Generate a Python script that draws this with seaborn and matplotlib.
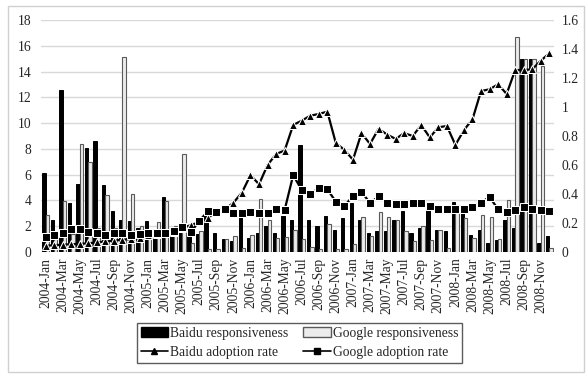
import numpy as np
import pandas as pd
import matplotlib
matplotlib.use("Agg")
import matplotlib.pyplot as plt
from matplotlib.patches import Patch, Rectangle
from matplotlib.lines import Line2D
import seaborn as sns

# Monthly series, 2004-Jan .. 2008-Dec
years = [2004, 2005, 2006, 2007, 2008]
month_names = ["Jan", "Feb", "Mar", "Apr", "May", "Jun",
               "Jul", "Aug", "Sep", "Oct", "Nov", "Dec"]
months = [f"{y}-{m}" for y in years for m in month_names]

baidu_resp = [6.1, 2.5, 12.6, 3.8, 5.3, 8.1, 8.6, 5.2, 3.2, 2.5, 2.4, 1.9,
              2.4, 1.7, 4.3, 1.9, 1.9, 1.4, 1.4, 3.0, 1.5, 1.0, 0.85, 3.1,
              1.05, 1.45, 2.05, 1.45, 2.8, 2.5, 8.3, 2.5, 2.0, 2.8, 1.7, 2.65,
              3.8, 2.5, 1.45, 1.6, 1.6, 2.45, 3.2, 1.5, 1.9, 3.4, 1.7, 1.65,
              3.9, 3.4, 1.35, 1.7, 0.7, 0.9, 2.45, 1.9, 15.0, 15.0, 0.7, 1.25]

google_resp = [2.9, 1.2, 3.95, 1.4, 8.4, 6.95, 1.9, 4.4, 1.9, 15.1, 4.5, 2.0,
               1.3, 2.35, 3.95, 2.0, 7.6, 0.7, 1.6, 0.2, 0.2, 1.0, 1.25, 0.3,
               1.35, 4.1, 2.5, 1.05, 1.2, 1.7, 1.0, 0.4, 0.2, 2.15, 0.2, 0.2,
               0.6, 2.7, 1.25, 3.1, 2.7, 2.45, 1.6, 0.85, 2.05, 0.9, 1.7, 0.3,
               3.65, 2.6, 1.05, 2.9, 2.75, 1.0, 4.0, 16.7, 15.0, 15.0, 14.4, 0.3]

baidu_rate = [0.043, 0.047, 0.05, 0.054, 0.056, 0.06, 0.066, 0.073, 0.078, 0.085, 0.089, 0.10,
              0.117, 0.124, 0.13, 0.14, 0.163, 0.186, 0.205, 0.235, 0.278, 0.294, 0.34, 0.41,
              0.53, 0.467, 0.60, 0.676, 0.70, 0.876, 0.906, 0.94, 0.952, 0.968, 0.75, 0.705,
              0.636, 0.82, 0.745, 0.85, 0.81, 0.78, 0.82, 0.80, 0.876, 0.79, 0.86, 0.869,
              0.738, 0.841, 0.915, 1.11, 1.122, 1.157, 1.09, 1.255, 1.255, 1.26, 1.32, 1.37]

google_rate = [0.105, 0.12, 0.13, 0.157, 0.157, 0.136, 0.13, 0.12, 0.13, 0.13, 0.12, 0.125,
               0.13, 0.13, 0.13, 0.145, 0.17, 0.135, 0.215, 0.28, 0.278, 0.294, 0.268, 0.267,
               0.278, 0.267, 0.271, 0.294, 0.29, 0.53, 0.428, 0.40, 0.44, 0.432, 0.347, 0.317,
               0.386, 0.415, 0.338, 0.383, 0.338, 0.328, 0.328, 0.34, 0.34, 0.317, 0.30, 0.30,
               0.30, 0.30, 0.313, 0.34, 0.38, 0.294, 0.274, 0.29, 0.313, 0.297, 0.29, 0.285]

left_ticks = list(range(0, 19, 2))
right_ticks = [0, 0.2, 0.4, 0.6, 0.8, 1.0, 1.2, 1.4, 1.6]
right_tick_labels = ["0", "0.2", "0.4", "0.6", "0.8", "1", "1.2", "1.4", "1.6"]

sns.set_theme(style="white")
plt.rcParams["font.family"] = ["Liberation Serif", "DejaVu Serif"]
FS = 9.8

bars = pd.DataFrame({
    "month": months * 2,
    "value": baidu_resp + google_resp,
    "series": ["Baidu responsiveness"] * 60 + ["Google responsiveness"] * 60,
})
lines = pd.DataFrame({
    "idx": list(range(60)) * 2,
    "rate": baidu_rate + google_rate,
    "series": ["Baidu adoption rate"] * 60 + ["Google adoption rate"] * 60,
})

fig = plt.figure(figsize=(5.86, 3.74), dpi=100)
ax = fig.add_axes([0.0705, 0.3262, 0.8742, 0.6203])

sns.barplot(data=bars, x="month", y="value", hue="series", order=months,
            palette={"Baidu responsiveness": "black",
                     "Google responsiveness": "#ececec"},
            width=0.78, gap=0, saturation=1, legend=False, ax=ax, zorder=2)
for p in ax.containers[0]:
    p.set_edgecolor("black")
    p.set_linewidth(0.7)
for p in ax.containers[1]:
    p.set_edgecolor("#5a5a5a")
    p.set_linewidth(0.8)

ax.set_ylim(0, 18)
ax.set_xlim(-0.5, 59.5)
ax.set_yticks(left_ticks)
ax.set_yticklabels([str(t) for t in left_ticks], fontsize=FS)
ax.set_xticks(range(0, 60, 2))
ax.set_xticklabels(months[::2], rotation=90, fontsize=FS)
ax.set_xlabel("")
ax.set_ylabel("")
ax.grid(axis="y", color="#d9d9d9", linewidth=1.0, zorder=0)
ax.set_axisbelow(True)
ax.tick_params(axis="both", length=0)
ax.tick_params(axis="y", pad=7)
ax.tick_params(axis="x", pad=4)
for s in ax.spines.values():
    s.set_visible(False)

ax2 = ax.twinx()
sns.lineplot(data=lines, x="idx", y="rate", hue="series", style="series",
             palette={"Baidu adoption rate": "black", "Google adoption rate": "black"},
             markers={"Baidu adoption rate": "^", "Google adoption rate": "s"},
             dashes=False, markersize=5.5, linewidth=1.6, legend=False, ax=ax2)
ax2.set_ylim(0, 1.6)
ax2.set_xlim(-0.5, 59.5)
ax2.set_yticks(right_ticks)
ax2.set_yticklabels(right_tick_labels, fontsize=FS)
ax2.set_xlabel("")
ax2.set_ylabel("")
ax2.tick_params(axis="y", length=0, pad=6)
ax2.grid(False)
for s in ax2.spines.values():
    s.set_visible(False)

handles = [
    Patch(facecolor="black", edgecolor="black", label="Baidu responsiveness"),
    Line2D([], [], color="black", marker="^", markersize=5, linewidth=1.2,
           label="Baidu adoption rate"),
    Patch(facecolor="#ececec", edgecolor="#5a5a5a", label="Google responsiveness"),
    Line2D([], [], color="black", marker="s", markersize=5, linewidth=1.2,
           label="Google adoption rate"),
]
leg = fig.legend(handles=handles, ncol=2, loc="center", bbox_to_anchor=(0.511, 0.083),
                 fontsize=FS, frameon=True, fancybox=False, handlelength=2.0,
                 handleheight=0.7, columnspacing=1.1, handletextpad=0.15,
                 labelspacing=0.45, borderpad=0.3, borderaxespad=0)
leg.get_frame().set_edgecolor("#333333")
leg.get_frame().set_linewidth(1.0)

# outer chart border
fig.patches.append(Rectangle((8 / 586, 2 / 374), 576 / 586, 366 / 374,
                             transform=fig.transFigure, fill=False,
                             edgecolor="#d0d0d0", linewidth=1.0))

fig.savefig("out.png", dpi=100)
